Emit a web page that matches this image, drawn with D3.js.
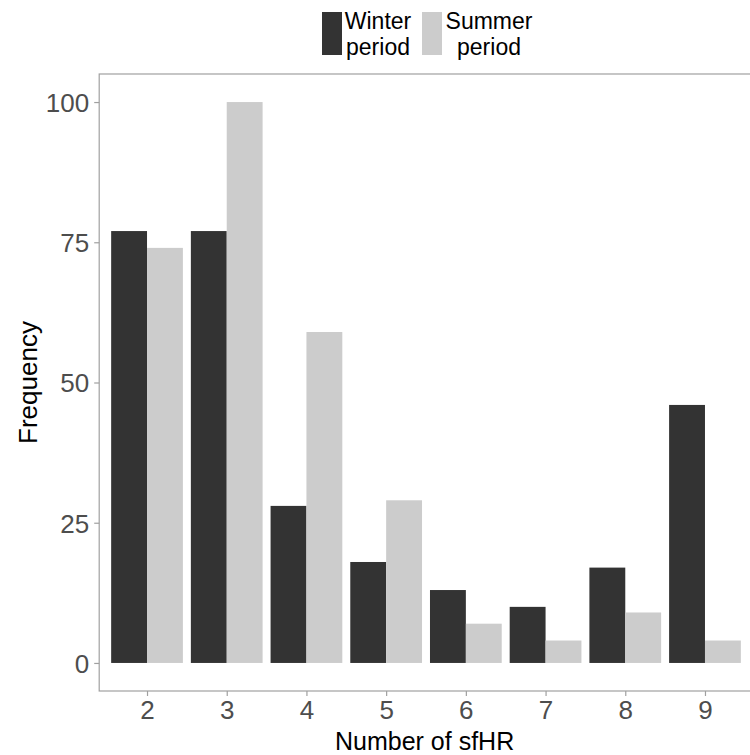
<!DOCTYPE html>
<html><head><meta charset="utf-8">
<script src="https://cdn.jsdelivr.net/npm/d3@7"></script>
<style>body{margin:0;background:#fff}svg{display:block}text{font-family:"Liberation Sans",Arial,sans-serif}</style>
</head><body>
<script>
const categories = ["2","3","4","5","6","7","8","9"];
const winter = [77, 77, 28, 18, 13, 10, 17, 46];
const summer = [74, 100, 59, 29, 7, 4, 9, 4];
const seriesNames = ["Winter\nperiod", "Summer\nperiod"];
const yTicks = [0, 25, 50, 75, 100];

const W = 750, H = 755;
const svg = d3.select("body").append("svg").attr("width", W).attr("height", H);
const pLeft = 99.2, pRight = 752.8, pTop = 74, pBottom = 691;
const colors = ["#333333", "#cccccc"];

// ggplot discrete scale: expansion 0.6 units each side; dodge bar width 0.9
const x = d3.scalePoint().domain(categories)
  .range([pLeft, pRight]).padding(0.6);
const unit = x.step();
const y = d3.scaleLinear().domain([-5, 105]).range([pBottom, pTop]);
const sub = d3.scaleBand().domain([0,1]).range([-0.45*unit, 0.45*unit]);

// panel border
svg.append("rect").attr("x", pLeft).attr("y", pTop).attr("width", pRight-pLeft).attr("height", pBottom-pTop)
  .attr("fill", "none").attr("stroke", "#a0a0a0").attr("stroke-width", 1.2);

const data = [winter, summer];
data.forEach((vals, s) => {
  svg.append("g").selectAll("rect").data(vals).join("rect")
    .attr("x", (v,i) => x(categories[i]) + sub(s))
    .attr("width", sub.bandwidth())
    .attr("y", v => y(v))
    .attr("height", v => y(0) - y(v))
    .attr("fill", colors[s]);
});

// y axis
const yAxis = svg.append("g").attr("transform", `translate(${pLeft},0)`)
  .call(d3.axisLeft(y).tickValues(yTicks).tickSize(5).tickPadding(5));
yAxis.select(".domain").remove();
yAxis.selectAll("line").attr("stroke", "#a0a0a0").attr("stroke-width", 1.2);
yAxis.selectAll("text").attr("fill", "#4d4d4d").style("font-size", "26px").attr("dy", "0.36em");

// x axis
const xAxis = svg.append("g").attr("transform", `translate(0,${pBottom})`)
  .call(d3.axisBottom(x).tickSize(5).tickPadding(5));
xAxis.select(".domain").remove();
xAxis.selectAll("line").attr("stroke", "#a0a0a0").attr("stroke-width", 1.2);
xAxis.selectAll("text").attr("fill", "#4d4d4d").style("font-size", "26px");

// axis titles
svg.append("text").attr("x", (pLeft + 750)/2).attr("y", 750).attr("text-anchor", "middle")
  .style("font-size", "25px").attr("fill", "#000").text("Number of sfHR");
svg.append("text").attr("transform", `translate(37,${(pTop+pBottom)/2}) rotate(-90)`)
  .attr("text-anchor", "middle").style("font-size", "26px").attr("fill", "#000").text("Frequency");

// legend
const legX = [322, 422];
const legTextX = [378, 489];
seriesNames.forEach((name, s) => {
  const g = svg.append("g");
  g.append("rect").attr("x", legX[s]).attr("y", 12).attr("width", 20).attr("height", 43).attr("fill", colors[s]);
  const t = g.append("text").attr("text-anchor", "middle")
    .style("font-size", "23px").attr("fill", "#000");
  name.split("\n").forEach((ln, k) => {
    t.append("tspan").attr("x", legTextX[s]).attr("y", 29 + k*26).text(ln);
  });
});
</script>
</body></html>
